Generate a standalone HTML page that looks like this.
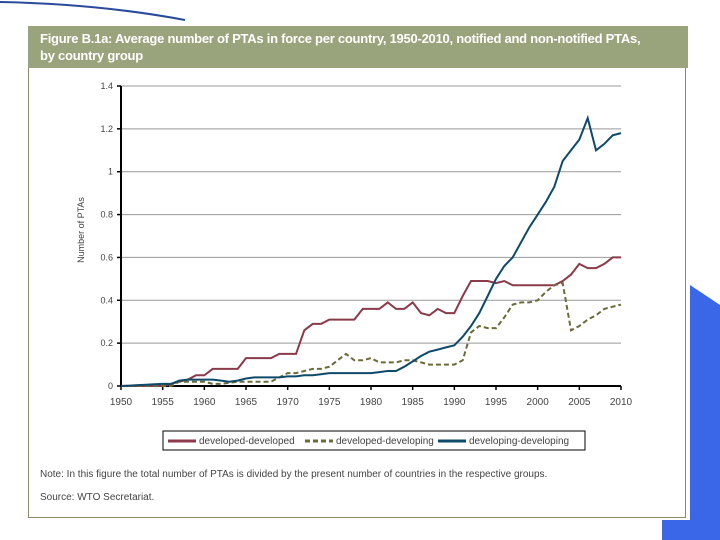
<!DOCTYPE html>
<html><head><meta charset="utf-8"><style>
body{margin:0;width:720px;height:540px;background:#fff;position:relative;overflow:hidden;font-family:"Liberation Sans",sans-serif}
#frame{position:absolute;left:28px;top:26px;width:658px;height:492px;border:1px solid #8a8a6a;border-top:none;box-sizing:border-box}
#hdr{position:absolute;left:28px;top:26px;width:660px;height:42px;background:#9aa47c;color:#fff;font-size:13px;font-weight:bold;line-height:17px;padding:4px 0 0 12px;box-sizing:border-box;letter-spacing:-0.25px;white-space:nowrap}
.txt{position:absolute;font-size:10px;color:#444}
</style></head><body>
<svg width="720" height="540" style="position:absolute;left:0;top:0">
<path d="M0,2 Q100,4 185,20" stroke="#2a4a9a" stroke-width="2" fill="none"/>
<path d="M690,285 L720,305 L720,540 L662,540 L662,520 L690,520 Z" fill="#3a66e8"/>
</svg>
<div id="frame"></div>
<div id="hdr">Figure B.1a: Average number of PTAs in force per country, 1950-2010, notified and non-notified PTAs,<br>by country group</div>
<svg id="chart" width="720" height="540" style="position:absolute;left:0;top:0"></svg>
<div class="txt" style="left:40px;top:469px">Note: In this figure the total number of PTAs is divided by the present number of countries in the respective groups.</div>
<div class="txt" style="left:40px;top:492px">Source: WTO Secretariat.</div>
<script>
const years=[];for(let y=1950;y<=2010;y++)years.push(y);
const devDev=[0,0,0,0,0,0,0.01,0.02,0.03,0.05,0.05,0.08,0.08,0.08,0.08,0.13,0.13,0.13,0.13,0.15,0.15,0.15,0.26,0.29,0.29,0.31,0.31,0.31,0.31,0.36,0.36,0.36,0.39,0.36,0.36,0.39,0.34,0.33,0.36,0.34,0.34,0.42,0.49,0.49,0.49,0.48,0.49,0.47,0.47,0.47,0.47,0.47,0.47,0.49,0.52,0.57,0.55,0.55,0.57,0.6,0.6];
const devDeving=[0,0,0,0,0,0,0,0.02,0.02,0.02,0.02,0.01,0.01,0.015,0.02,0.02,0.02,0.02,0.02,0.04,0.06,0.06,0.07,0.08,0.08,0.09,0.12,0.15,0.12,0.12,0.13,0.11,0.11,0.11,0.12,0.12,0.11,0.1,0.1,0.1,0.1,0.12,0.25,0.28,0.27,0.27,0.32,0.38,0.39,0.39,0.4,0.44,0.47,0.48,0.26,0.28,0.31,0.33,0.36,0.37,0.38];
const devingDeving=[0,0.002,0.004,0.006,0.008,0.01,0.01,0.025,0.03,0.03,0.03,0.03,0.025,0.02,0.025,0.035,0.04,0.04,0.04,0.04,0.045,0.045,0.05,0.05,0.055,0.06,0.06,0.06,0.06,0.06,0.06,0.065,0.07,0.07,0.09,0.115,0.14,0.16,0.17,0.18,0.19,0.23,0.28,0.34,0.42,0.5,0.56,0.6,0.67,0.74,0.8,0.86,0.93,1.05,1.1,1.15,1.25,1.1,1.13,1.17,1.18];
const yTicks=[0,0.2,0.4,0.6,0.8,1,1.2,1.4];
const yTickLabels=["0","0.2","0.4","0.6","0.8","1","1.2","1.4"];
const xTicks=[1950,1955,1960,1965,1970,1975,1980,1985,1990,1995,2000,2005,2010];
const X=v=>121+(v-1950)/60*500, Y=v=>386-v/1.4*300;
const svg=document.getElementById('chart'),NS='http://www.w3.org/2000/svg';
function mk(t,a){const e=document.createElementNS(NS,t);for(const k in a)e.setAttribute(k,a[k]);svg.appendChild(e);return e;}
yTicks.forEach((t,i)=>{
 if(t>0){const g=mk('line',{x1:121,x2:621,y1:Y(t),y2:Y(t),stroke:'#999','stroke-width':1});
 
 }
 const tk=mk('line',{x1:117,x2:121,y1:Y(t),y2:Y(t),stroke:'#000','stroke-width':1.5});
 const l=mk('text',{x:113,y:Y(t)+3,'text-anchor':'end','font-size':9,fill:'#444'});l.textContent=yTickLabels[i];
 
 
});
xTicks.forEach(t=>{
 mk('line',{x1:X(t),x2:X(t),y1:386,y2:390,stroke:'#000','stroke-width':1.5});
 const l=mk('text',{x:X(t),y:405,'text-anchor':'middle','font-size':10,fill:'#444'});l.textContent=t;
 
 
});
const ax=mk('path',{d:'M121,86 V386 H621',stroke:'#000','stroke-width':2,fill:'none'});


const yt=mk('text',{x:0,y:0,transform:'translate(84,230) rotate(-90)','text-anchor':'middle','font-size':9,fill:'#444'});yt.textContent='Number of PTAs';


function line(data,color,dash,name){
 const d=data.map((v,i)=>(i?'L':'M')+X(years[i]).toFixed(1)+','+Y(v).toFixed(1)).join('');
 const p=mk('path',{d,stroke:color,'stroke-width':2,fill:'none','stroke-dasharray':dash||'none'});
 
 
}
line(devDev,'#8b3a4a',null,'series-developed-developed');
line(devDeving,'#6b6b3a','5,3','series-developed-developing');
line(devingDeving,'#0e4a6a',null,'series-developing-developing');
const lb=mk('rect',{x:163,y:431,width:422,height:19,fill:'#fff',stroke:'#000','stroke-width':1});


[['developed-developed','#8b3a4a',null,168],['developed-developing','#6b6b3a','5,3',305],['developing-developing','#0e4a6a',null,438]].forEach(e=>{
 mk('line',{x1:e[3],x2:e[3]+28,y1:441,y2:441,stroke:e[1],'stroke-width':3,'stroke-dasharray':e[2]||'none'});
 const t=mk('text',{x:e[3]+31,y:444,'font-size':10,fill:'#444'});t.textContent=e[0];
 
 
});
</script>
</body></html>
